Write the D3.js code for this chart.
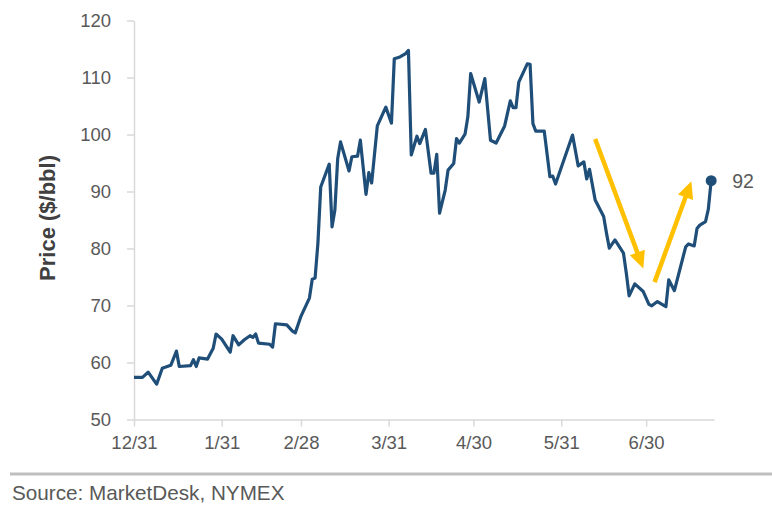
<!DOCTYPE html>
<html>
<head>
<meta charset="utf-8">
<script src="https://cdn.jsdelivr.net/npm/d3@7"></script>
<style>
  html, body { margin: 0; padding: 0; background: #fff; }
  svg { display: block; font-family: "Liberation Sans", Arial, sans-serif; }
</style>
</head>
<body>
<svg id="chart" width="772" height="516"></svg>
<script>
// ---- data ----
const dates = [
  "2021-12-31","2022-01-03","2022-01-05","2022-01-08","2022-01-10","2022-01-13","2022-01-15","2022-01-16",
  "2022-01-20","2022-01-21","2022-01-22","2022-01-23","2022-01-26","2022-01-28","2022-01-29","2022-01-31",
  "2022-02-03","2022-02-04","2022-02-06","2022-02-08","2022-02-10","2022-02-11","2022-02-12","2022-02-13",
  "2022-02-17","2022-02-18","2022-02-19","2022-02-23","2022-02-25","2022-02-26","2022-02-28",
  "2022-03-03","2022-03-04","2022-03-05","2022-03-06","2022-03-07","2022-03-10","2022-03-11","2022-03-12",
  "2022-03-13","2022-03-14","2022-03-17","2022-03-18","2022-03-20","2022-03-21","2022-03-23","2022-03-24",
  "2022-03-25","2022-03-27","2022-03-30","2022-04-01","2022-04-02","2022-04-04","2022-04-06","2022-04-07",
  "2022-04-08","2022-04-10","2022-04-11","2022-04-13","2022-04-15","2022-04-16","2022-04-17","2022-04-18",
  "2022-04-20","2022-04-21","2022-04-23","2022-04-24","2022-04-25","2022-04-27","2022-04-28","2022-04-29",
  "2022-05-02","2022-05-04","2022-05-06","2022-05-08","2022-05-11","2022-05-13","2022-05-14","2022-05-15",
  "2022-05-16","2022-05-19","2022-05-20","2022-05-21","2022-05-22","2022-05-25","2022-05-27","2022-05-28",
  "2022-05-29","2022-06-04","2022-06-06","2022-06-08","2022-06-09","2022-06-10","2022-06-12","2022-06-15",
  "2022-06-16","2022-06-17","2022-06-18","2022-06-19","2022-06-22","2022-06-23","2022-06-24","2022-06-26",
  "2022-06-29","2022-07-01","2022-07-02","2022-07-04","2022-07-07","2022-07-08","2022-07-10","2022-07-14",
  "2022-07-15","2022-07-17","2022-07-18","2022-07-19","2022-07-21","2022-07-22","2022-07-23"
];
const prices = [
  57.4, 57.4, 58.3, 56.2, 59.0, 59.5, 62.0, 59.3,
  59.45, 60.5, 59.3, 60.8, 60.6, 62.5, 65.0, 64.1,
  61.8, 64.7, 63.1, 64.0, 64.7, 64.4, 65.0, 63.4,
  63.2, 62.7, 66.8, 66.6, 65.5, 65.2, 68.1,
  71.3, 74.6, 74.8, 80.9, 90.8, 94.8, 83.8, 86.75,
  95.8, 98.7, 93.6, 96.1, 96.2, 99.0, 89.5, 93.3,
  91.5, 101.5, 104.8, 102.0, 113.3, 113.6, 114.2, 114.75,
  96.4, 99.7, 98.4, 100.9, 93.2, 93.2, 96.5, 86.2,
  90.25, 93.75, 94.9, 99.3, 98.5, 100.05, 103.1, 110.7,
  105.7, 109.8, 99.0, 98.5, 101.5, 105.9, 104.7, 104.7,
  109.2, 112.4, 112.3, 101.9, 100.6, 100.6, 92.6, 92.7,
  91.3, 99.9, 94.5, 95.2, 92.2, 93.9, 88.5, 85.6,
  82.7, 80.05, 80.8, 81.5, 79.2, 75.7, 71.7, 73.8,
  72.45, 70.2, 69.95, 70.7, 69.8, 74.5, 72.6, 80.3,
  80.8, 80.45, 83.5, 84.1, 84.7, 86.9, 91.9
];
const xTickDates = ["2021-12-31","2022-01-31","2022-02-28","2022-03-31","2022-04-30","2022-05-31","2022-06-30"];
const xDomain = ["2021-12-31","2022-07-24"];
const yTicks = [50, 60, 70, 80, 90, 100, 110, 120];
const yDomain = [50, 120];
const lastLabel = "92";
// annotation arrows: [start date, start value, end date, end value]
const arrowDown = ["2022-06-12", 99.2, "2022-06-29", 76.5];
const arrowUp   = ["2022-07-03", 74.1, "2022-07-16", 91.8];
const yTitle = "Price ($/bbl)";
const sourceText = "Source: MarketDesk, NYMEX";

// ---- drawing ----
(function () {
const parse = d3.timeParse("%Y-%m-%d");
const fmt = d3.timeFormat("%-m/%-d");
const data = dates.map((d, i) => ({ date: parse(d), value: prices[i] }));

const svg = d3.select("#chart");
const pL = 134, pR = 714, pT = 20.5, pB = 419.5;

const x = d3.scaleTime().domain(xDomain.map(parse)).range([pL, pR]);
const y = d3.scaleLinear().domain(yDomain).range([pB, pT]);

const axisColor = "#d9d9d9";
const textColor = "#595959";
const fontSize = "18.5px";

// y axis
const gy = svg.append("g").attr("transform", `translate(${pL},0)`)
  .call(d3.axisLeft(y).tickValues(yTicks).tickSize(7).tickPadding(16).tickSizeOuter(0));
gy.select(".domain").attr("stroke", axisColor).attr("stroke-width", 1.5);
gy.selectAll(".tick line").attr("stroke", axisColor).attr("stroke-width", 1.5);
gy.selectAll(".tick text").attr("fill", textColor).style("font-size", fontSize)
  .style("font-family", '"Liberation Sans", Arial, sans-serif');

// x axis
const gx = svg.append("g").attr("transform", `translate(0,${pB})`)
  .call(d3.axisBottom(x).tickValues(xTickDates.map(parse)).tickFormat(fmt).tickSize(7).tickPadding(9).tickSizeOuter(0));
gx.select(".domain").attr("stroke", axisColor).attr("stroke-width", 1.5);
gx.selectAll(".tick line").attr("stroke", axisColor).attr("stroke-width", 1.5);
gx.selectAll(".tick text").attr("fill", textColor).style("font-size", fontSize)
  .style("font-family", '"Liberation Sans", Arial, sans-serif');

// y title
svg.append("text")
  .attr("transform", `translate(55,218) rotate(-90)`)
  .attr("text-anchor", "middle")
  .attr("fill", "#404040")
  .style("font-size", "22px")
  .style("font-weight", "bold")
  .text(yTitle);

// line
const line = d3.line().x(d => x(d.date)).y(d => y(d.value));
svg.append("path").datum(data)
  .attr("d", line)
  .attr("fill", "none")
  .attr("stroke", "#1F4E79")
  .attr("stroke-width", 3.2)
  .attr("stroke-linejoin", "round");

// end dot and label
const last = data[data.length - 1];
svg.append("circle").attr("cx", x(last.date)).attr("cy", y(last.value)).attr("r", 5.5).attr("fill", "#1F4E79");
svg.append("text").attr("x", x(last.date) + 21).attr("y", y(last.value) + 7)
  .attr("fill", textColor).style("font-size", "19.5px").text(lastLabel);

// arrows
function drawArrow(a) {
  const x1 = x(parse(a[0])), y1 = y(a[1]), x2 = x(parse(a[2])), y2 = y(a[3]);
  const dx = x2 - x1, dy = y2 - y1, len = Math.hypot(dx, dy);
  const ux = dx / len, uy = dy / len;
  const headLen = 17, headW = 8;
  const bx = x2 - ux * headLen, by = y2 - uy * headLen;
  svg.append("line").attr("x1", x1).attr("y1", y1).attr("x2", bx + ux * 2).attr("y2", by + uy * 2)
    .attr("stroke", "#FFC000").attr("stroke-width", 4.5);
  svg.append("polygon")
    .attr("points", [[x2, y2], [bx - uy * headW, by + ux * headW], [bx + uy * headW, by - ux * headW]].map(p => p.join(",")).join(" "))
    .attr("fill", "#FFC000");
}
drawArrow(arrowDown);
drawArrow(arrowUp);

// separator and source
svg.append("line").attr("x1", 10).attr("x2", 772).attr("y1", 474).attr("y2", 474)
  .attr("stroke", "#bfbfbf").attr("stroke-width", 3);
svg.append("text").attr("x", 12).attr("y", 500).attr("fill", textColor)
  .style("font-size", "20.7px").text(sourceText);
})();
</script>
</body>
</html>
